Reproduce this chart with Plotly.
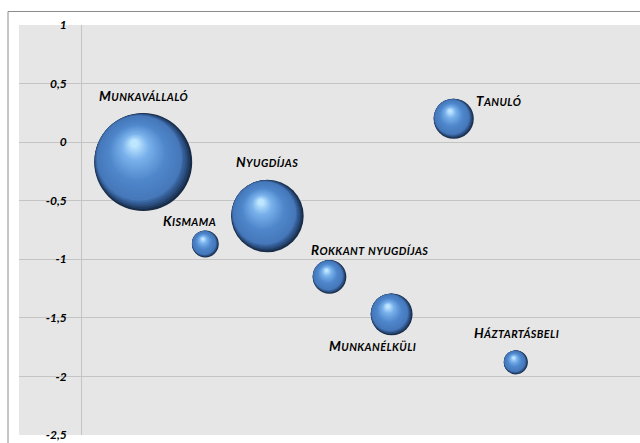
import numpy as np
import plotly.graph_objects as go

# ---------------- data ----------------
categories = ["Munkavállaló", "Kismama", "Nyugdíjas", "Rokkant nyugdíjas",
              "Munkanélküli", "Tanuló", "Háztartásbeli"]
x_values = [1, 2, 3, 4, 5, 6, 7]
y_values = [-0.17, -0.87, -0.63, -1.15, -1.47, 0.20, -1.88]
bubble_sizes = [46.5, 3.5, 25.5, 5.5, 8.5, 7.8, 2.8]
y_tick_values = [1, 0.5, 0, -0.5, -1, -1.5, -2, -2.5]
y_tick_labels = ["1", "0,5", "0", "-0,5", "-1", "-1,5", "-2", "-2,5"]

# ---------------- layout constants ----------------
W, H = 640, 443
ML, MR, MT, MB = 19, 0, 25, 8
XR = [-1, 9]
YR = [-2.5, 1]
PW, PH = W - ML - MR, H - MT - MB
px_x = PW / (XR[1] - XR[0])
px_y = PH / (YR[1] - YR[0])
MAX_D = 98.0

# label offsets (pixels, relative to bubble centre)
label_dx = [0, -16, 0, 40, -19, 45, 1]
label_dy = [66, 23, 54, 27, -32, 18, 29]

fig = go.Figure()

# sphere shading: stacked discs (dark crescent lower-right, highlight upper-left)
stops_t = [0.0, 0.06, 0.14, 0.45, 0.78, 1.0]
stops_c = [(24, 44, 72), (44, 80, 130), (70, 120, 186), (80, 136, 204),
           (122, 178, 236), (190, 230, 255)]


def shade(t):
    r = np.interp(t, stops_t, [c[0] for c in stops_c])
    g = np.interp(t, stops_t, [c[1] for c in stops_c])
    b = np.interp(t, stops_t, [c[2] for c in stops_c])
    return f"rgb({int(r)},{int(g)},{int(b)})"


vmax = max(bubble_sizes)
radii = [MAX_D / 2 * np.sqrt(v / vmax) for v in bubble_sizes]
S_MIN = 0.08
D = np.array([-0.74, -0.67])
HL = np.array([-0.18, -0.38])
T1 = 0.11
P1 = (1 - S_MIN) * T1 * D


def offset(t):
    if t <= T1:
        return (1 - S_MIN) * t * D
    u = (t - T1) / (1 - T1)
    return P1 + u * (HL - P1)


N = 36
for k in range(N):
    t = k / (N - 1)
    s = 1 - t * (1 - S_MIN)
    o = offset(t)
    xs = [x + o[0] * r / px_x for x, r in zip(x_values, radii)]
    ys = [y - o[1] * r / px_y for y, r in zip(y_values, radii)]
    sizes = [2 * r * s for r in radii]
    fig.add_trace(go.Scatter(
        x=xs, y=ys, mode="markers",
        marker=dict(size=sizes, sizemode="diameter", color=shade(t),
                    line=dict(width=0), opacity=1),
        hoverinfo="skip", showlegend=False,
    ))

LABEL_SIZE = 13.5
SMALL_SIZE = 10.8


def small_caps(text):
    words = []
    for w in text.split(" "):
        head, tail = w[0], w[1:]
        if head.isupper():
            words.append(head + f"<span style='font-size:{SMALL_SIZE}px'>{tail.upper()}</span>")
        else:
            words.append(f"<span style='font-size:{SMALL_SIZE}px'>{w.upper()}</span>")
    return " ".join(words)


label_font = dict(family="Lato", size=LABEL_SIZE, color="black", weight="bold",
                  style="italic")
for name, x, y, dx, dy in zip(categories, x_values, y_values, label_dx, label_dy):
    fig.add_annotation(x=x, y=y,
                       text=f"<span style='letter-spacing:0.4px'>{small_caps(name)}</span>",
                       showarrow=False, xshift=dx, yshift=dy, font=label_font,
                       xanchor="center", yanchor="middle")

# outer chart border
fig.add_shape(type="rect", xref="paper", yref="paper",
              x0=(8 - ML) / PW, x1=1.2, y0=-0.3, y1=(H - MB - 11.5) / PH,
              line=dict(color="#8c8c8c", width=1), fillcolor="rgba(0,0,0,0)")

fig.update_layout(
    width=W, height=H,
    margin=dict(l=ML, r=MR, t=MT, b=MB, pad=0),
    paper_bgcolor="white",
    plot_bgcolor="#e6e6e6",
    xaxis=dict(range=XR, showgrid=False, zeroline=False, showticklabels=False,
               ticks="", showline=False, fixedrange=True),
    yaxis=dict(range=YR, anchor="free", position=(0 - XR[0]) / (XR[1] - XR[0]),
               tickvals=y_tick_values, ticktext=y_tick_labels,
               showgrid=True, gridcolor="#c4c4c4", gridwidth=1,
               zeroline=False, showline=True, linecolor="#c4c4c4", linewidth=1,
               ticks="", ticklabelstandoff=12,
               tickfont=dict(family="Lato", size=12, color="black",
                             weight="bold", style="italic"),
               fixedrange=True),
)

fig.write_html("out.html",
               config={"displayModeBar": False, "staticPlot": True},
               post_script="document.body.style.margin='0';"
                           "document.body.style.overflow='hidden';")
